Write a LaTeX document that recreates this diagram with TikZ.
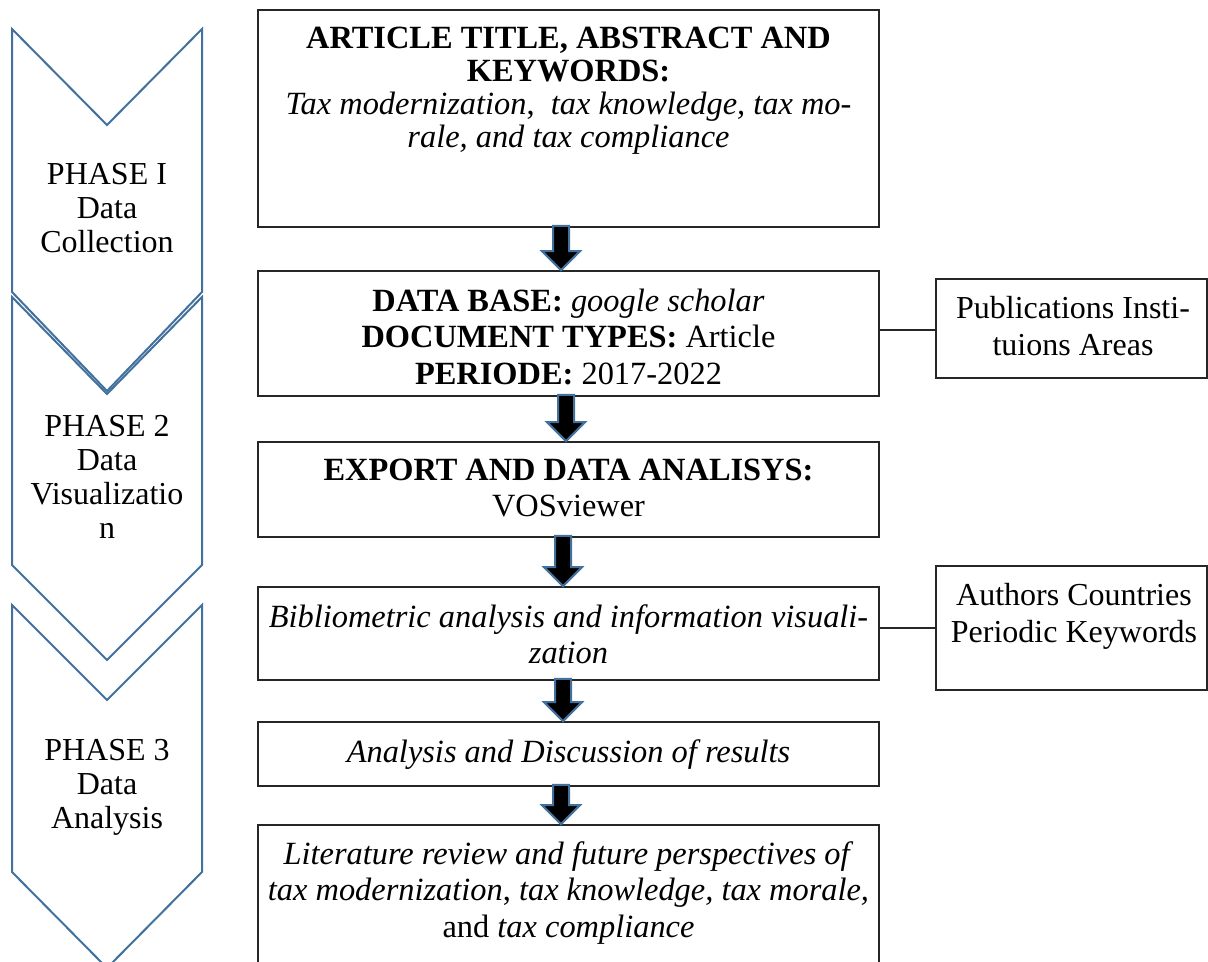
\documentclass[tikz,border=0pt]{standalone}
\usepackage{fontspec}
\setmainfont{Liberation Serif}
\usetikzlibrary{calc,fit}
\definecolor{chev}{RGB}{65,113,156}
\tikzset{
  chevron/.style={draw=chev, line width=1pt, line join=miter},
  box/.style={draw=black!85, line width=0.9pt, rectangle, inner sep=0pt},
  txt/.style={anchor=north, inner sep=0pt, align=center},
  blockarrow/.style={fill=black, draw=chev, line width=1pt, line join=miter},
  link/.style={draw=black!85, line width=0.7pt}
}
\newcommand\fl{\rule{0pt}{13pt}}
\newcommand\blkarrow[3]{%
  \path (#1.south) ++(#3,0) coordinate (as) (#2.north) ++(#3,0) coordinate (ae);
  \draw[blockarrow] ($(as)+(-8,-2)$) -- ($(as)+(8,-2)$) -- ($(ae)+(8,-19)$) -- ($(ae)+(19,-19)$)
    -- (ae) -- ($(ae)+(-19,-19)$) -- ($(ae)+(-8,-19)$) -- cycle;}
\begin{document}
\begin{tikzpicture}[x=0.5pt,y=-0.5pt]
\useasboundingbox[fill=white] (0,0) rectangle (1208,962);

% chevrons
\draw[chevron] (12,29) -- (107,125) -- (202,29) -- (202,292) -- (107,391) -- (12,292) -- cycle;
\draw[chevron] (12,297) -- (107,394) -- (202,297) -- (202,565) -- (107,660) -- (12,565) -- cycle;
\draw[chevron] (12,605) -- (107,700) -- (202,605) -- (202,872) -- (107,968) -- (12,872) -- cycle;

\node[txt, font=\fontsize{16}{17}\selectfont] (p1) at (107,158) {\fl PHASE I\\Data\\Collection};
\node[txt, font=\fontsize{16}{17}\selectfont] (p2) at (107,410) {\fl PHASE 2\\Data\\Visualizatio\\n};
\node[txt, font=\fontsize{16}{17}\selectfont] (p3) at (107,734) {\fl PHASE 3\\Data\\Analysis};

% boxes
\node[box, fit={(258,10) (879,227)}] (b1) {};
\node[box, fit={(258,271) (879,396)}] (b2) {};
\node[box, fit={(258,442) (879,537)}] (b3) {};
\node[box, fit={(258,587) (879,680)}] (b4) {};
\node[box, fit={(258,722) (879,786)}] (b5) {};
\node[box, fit={(258,825) (879,1000)}] (b6) {};
\node[box, fit={(936,279) (1207,378)}] (s1) {};
\node[box, fit={(936,566) (1207,690)}] (s2) {};

% texts
\node[txt, font=\fontsize{16.2}{16.5}\selectfont] (t1) at (568.5,22)
  {\fl\textbf{ARTICLE TITLE, ABSTRACT AND}\\\textbf{KEYWORDS:}\\\textit{Tax modernization},\ \ \textit{tax knowledge, tax mo-}\\\textit{rale, and tax compliance}};
\node[txt, font=\fontsize{16.2}{18.25}\selectfont] (t2) at (568.5,285)
  {\fl\textbf{DATA BASE:} \textit{google scholar}\\\textbf{DOCUMENT TYPES:} Article\\\textbf{PERIODE:} 2017-2022};
\node[txt, font=\fontsize{16.2}{18.25}\selectfont] (t3) at (568.5,454)
  {\fl\textbf{EXPORT AND DATA ANALISYS:}\\VOSviewer};
\node[txt, font=\fontsize{16.2}{18.25}\selectfont] (t4) at (568.5,601)
  {\fl\textit{Bibliometric analysis and information visuali-}\\\textit{zation}};
\node[txt, font=\fontsize{16.2}{18.25}\selectfont] (t5) at (568.5,736)
  {\fl\textit{Analysis and Discussion of results}};
\node[txt, font=\fontsize{16.2}{18.25}\selectfont] (t6) at (568.5,838)
  {\fl\textit{Literature review and future perspectives of}\\\textit{tax modernization}, \textit{tax knowledge, tax morale,}\\and \textit{tax compliance}};
\node[txt, font=\fontsize{16}{18.75}\selectfont] (u1) at (1073,292) {\fl Publications Insti-\\tuions Areas};
\node[txt, font=\fontsize{16}{18.5}\selectfont] (u2) at (1074,579) {\fl Authors Countries\\Periodic Keywords};

% connectors
\draw[link] ([yshift=1.75pt]b2.east) -- ([yshift=1.75pt]b2.east -| s1.west);
\draw[link] (s2.west -| b4.east) -- (s2.west);

% block arrows
\blkarrow{b1}{b2}{-7.5}
\blkarrow{b2}{b3}{-2.5}
\blkarrow{b3}{b4}{-5.5}
\blkarrow{b4}{b5}{-5.5}
\blkarrow{b5}{b6}{-7.5}
\end{tikzpicture}
\end{document}
